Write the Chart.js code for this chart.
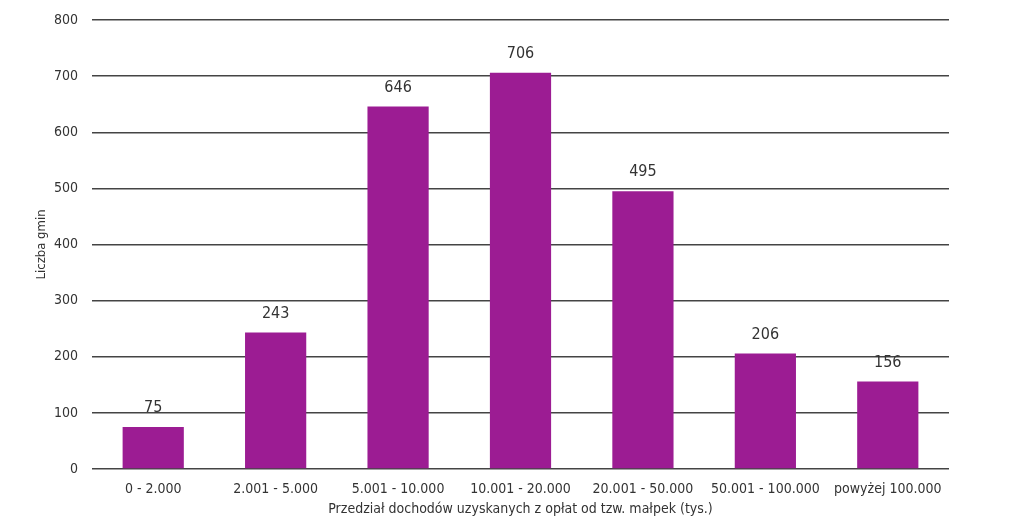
<!DOCTYPE html>
<html>
<head>
<meta charset="utf-8">
<script src="https://cdn.jsdelivr.net/npm/chart.js@4/dist/chart.umd.min.js"></script>
<style>
  html, body { margin: 0; padding: 0; background: #fff; }
  #wrap { width: 1024px; height: 518px; }
</style>
</head>
<body>
<div id="wrap"><canvas id="incomeChart" width="1024" height="518"></canvas></div>
<script>
// Liczba gmin wg przedziału dochodów z opłat od tzw. małpek (tys.)
const CATEGORIES = ['0 - 2.000', '2.001 - 5.000', '5.001 - 10.000', '10.001 - 20.000',
                    '20.001 - 50.000', '50.001 - 100.000', 'powyżej 100.000'];
const GMINY      = [75, 243, 646, 706, 495, 206, 156];
const Y_TICKS    = [0, 100, 200, 300, 400, 500, 600, 700, 800];

const FONT     = '"Liberation Sans Narrow", "DejaVu Sans Condensed", sans-serif';
const BAR_FILL = '#9c1c93';
const TEXT     = '#333';

// values drawn above each bar (no datalabels plugin available offline)
const valueLabels = {
  id: 'valueLabels',
  afterDatasetsDraw(chart) {
    const ctx = chart.ctx;
    const meta = chart.getDatasetMeta(0);
    ctx.save();
    ctx.font = '16px ' + FONT;
    ctx.fillStyle = TEXT;
    ctx.textAlign = 'center';
    ctx.textBaseline = 'middle';
    meta.data.forEach((bar, i) => {
      ctx.fillText(String(GMINY[i]), bar.x, bar.y - 19);
    });
    ctx.restore();
  }
};

new Chart(document.getElementById('incomeChart'), {
  type: 'bar',
  data: {
    labels: CATEGORIES,
    datasets: [{
      label: 'Liczba gmin',
      data: GMINY,
      backgroundColor: BAR_FILL,
      borderWidth: 0,
      barPercentage: 0.5,
      categoryPercentage: 1.0
    }]
  },
  options: {
    responsive: false,
    animation: false,
    layout: { padding: { top: 20, right: 75, left: 34, bottom: 0 } },
    plugins: {
      legend: { display: false },
      tooltip: { enabled: false }
    },
    scales: {
      x: {
        grid: { display: false },
        border: { display: false },
        ticks: { color: TEXT, font: { family: FONT, size: 14 }, padding: 4, maxRotation: 0 },
        title: {
          display: true,
          text: 'Przedział dochodów uzyskanych z opłat od tzw. małpek (tys.)',
          color: TEXT,
          font: { family: FONT, size: 14 },
          padding: { top: 0, bottom: 0 }
        },
        afterFit: s => { s.height = 49; }
      },
      y: {
        min: 0,
        max: 800,
        afterBuildTicks: s => { s.ticks = Y_TICKS.map(v => ({ value: v })); },
        grid: { color: '#444', lineWidth: 1.5, drawTicks: false },
        border: { display: false },
        ticks: { color: TEXT, font: { family: FONT, size: 14 }, padding: 14 },
        title: {
          display: true,
          text: 'Liczba gmin',
          color: TEXT,
          font: { family: FONT, size: 13 },
          padding: { top: 0, bottom: 0 }
        },
        afterFit: s => { s.width = 58; s.paddingTop = 0; s.paddingBottom = 0; }
      }
    }
  },
  plugins: [valueLabels]
});
</script>
</body>
</html>
